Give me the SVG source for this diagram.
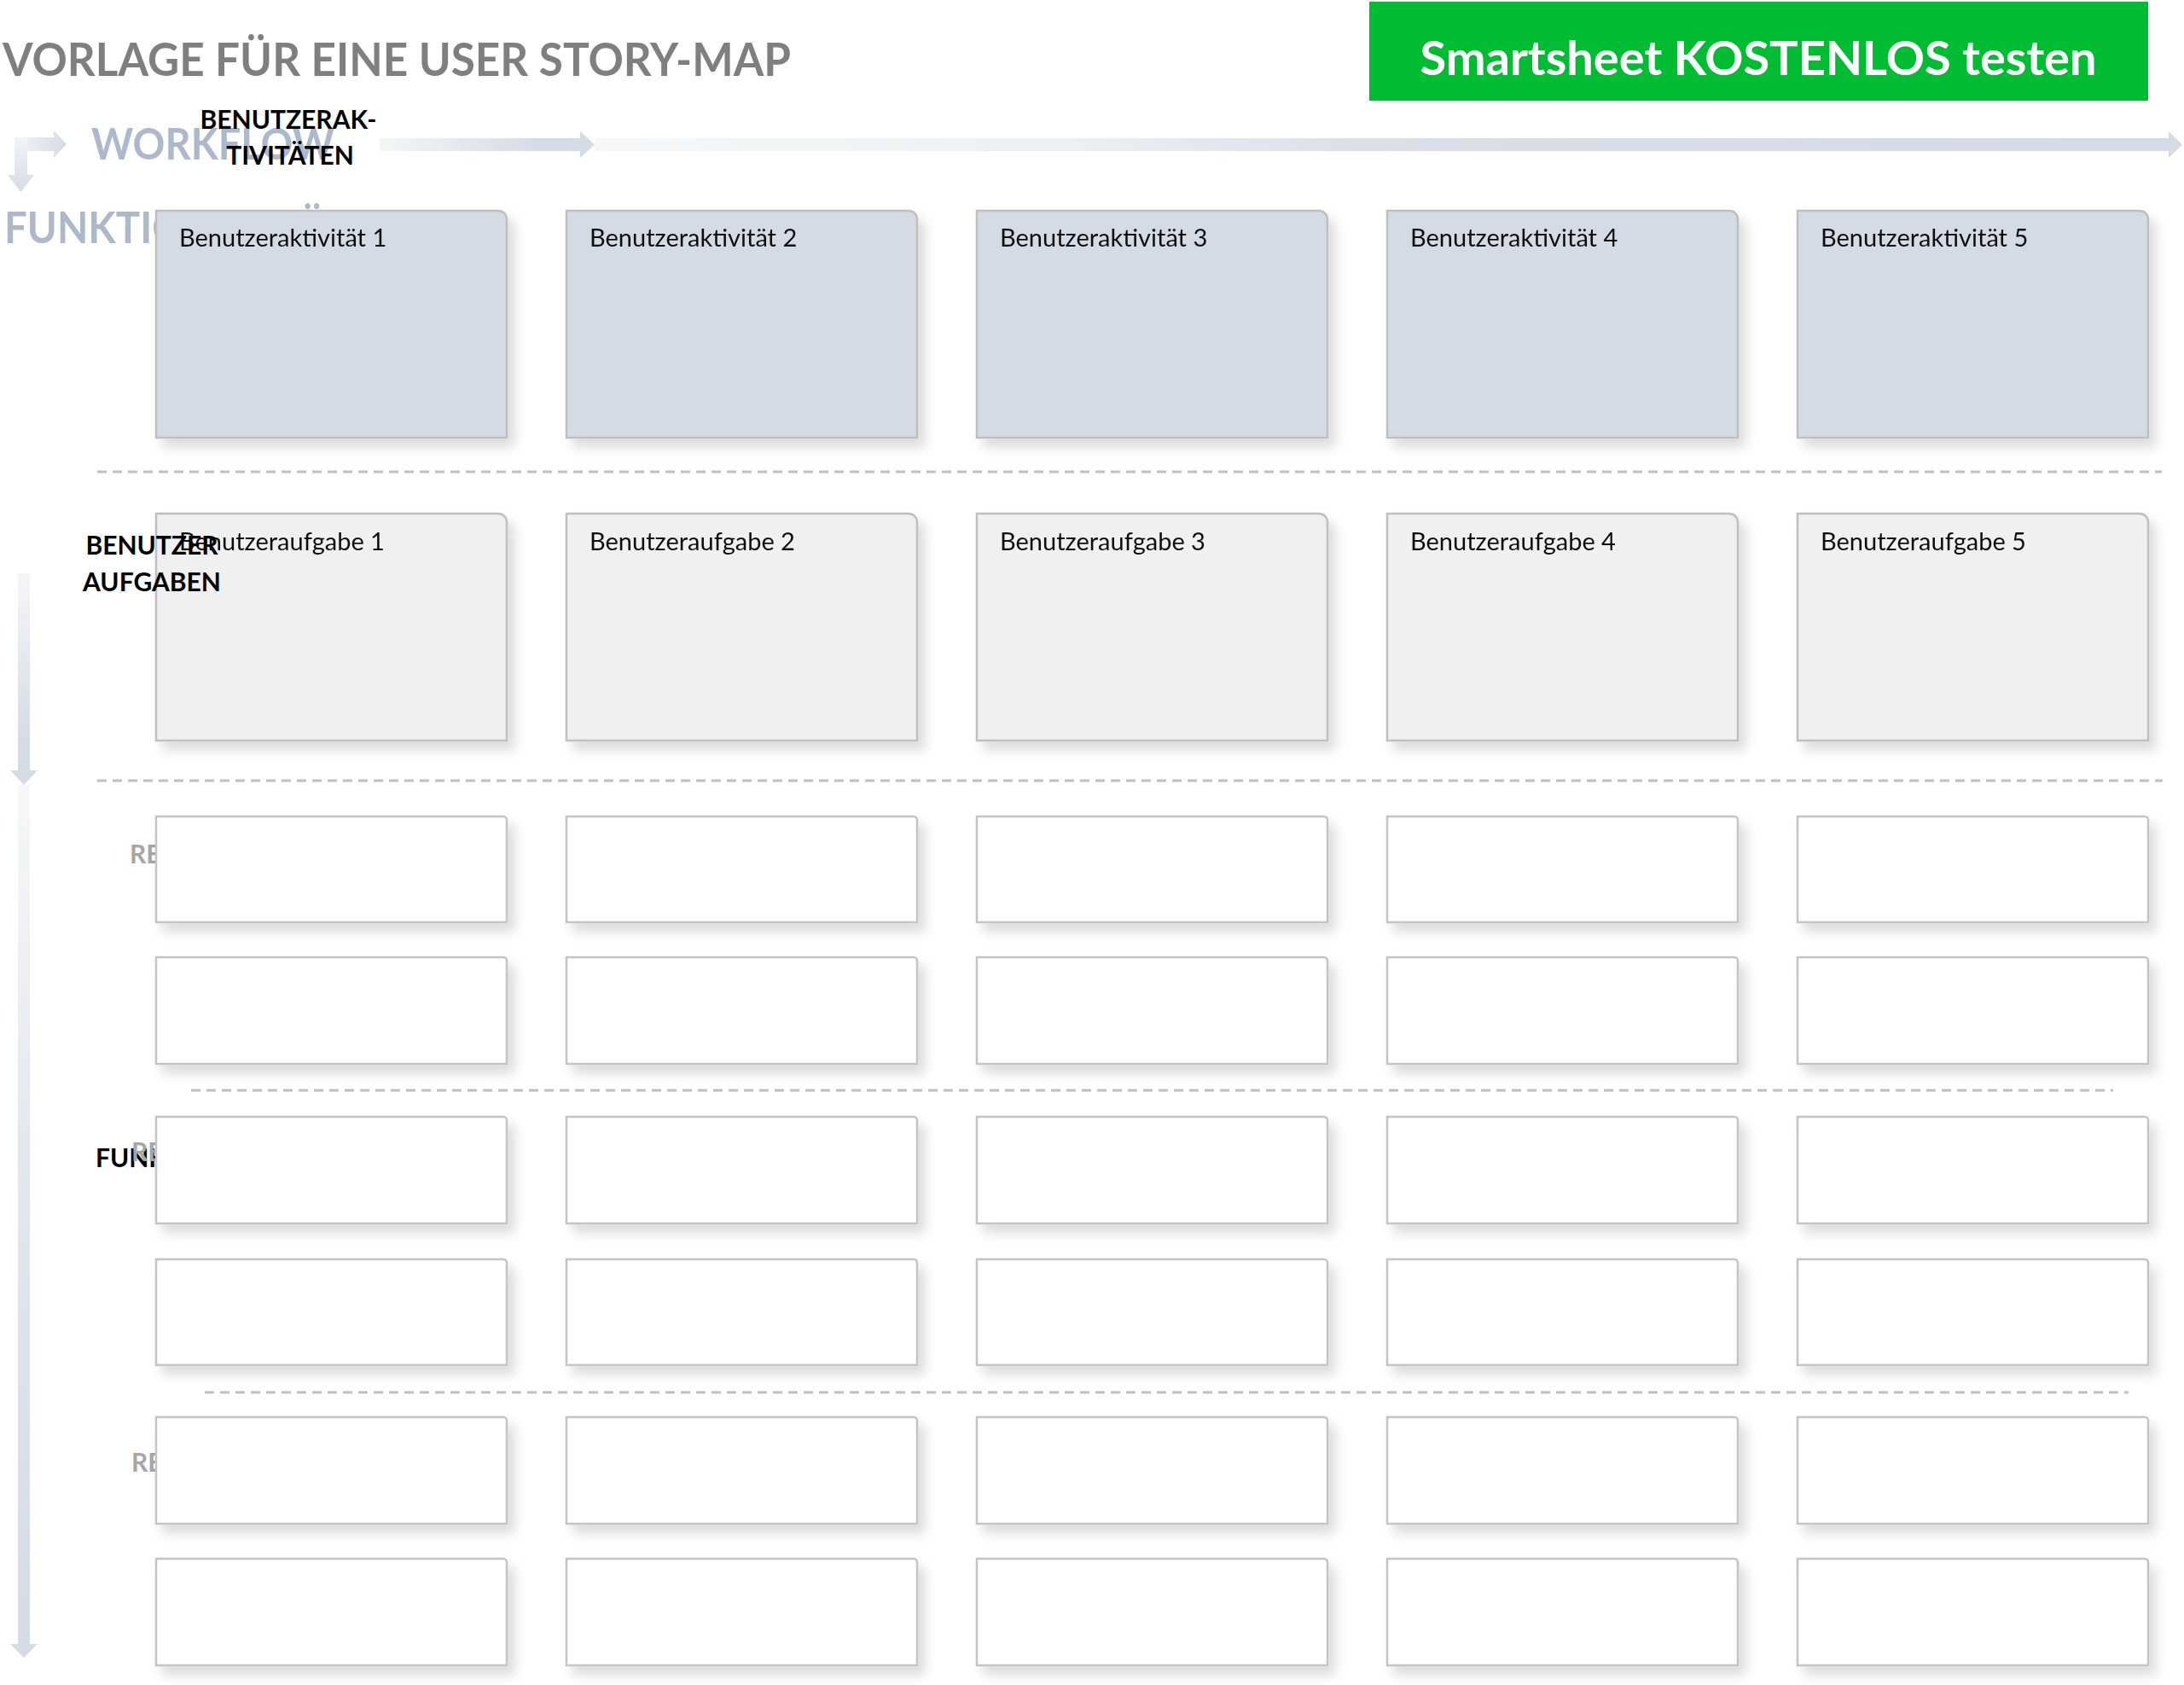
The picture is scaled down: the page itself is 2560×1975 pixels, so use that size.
<svg xmlns="http://www.w3.org/2000/svg" width="2560" height="1975" viewBox="0 0 2560 1975">
<defs>
<style>
.title{font-family:Lato,"Liberation Sans",sans-serif;font-weight:700;font-size:53px;fill:#7f7f7f}
.btn{font-family:Lato,"Liberation Sans",sans-serif;font-weight:700;font-size:56px;fill:#ffffff}
.axis{font-family:Lato,"Liberation Sans",sans-serif;font-weight:700;font-size:52px;fill:#adb9ca}
.lbl{font-family:Lato,"Liberation Sans",sans-serif;font-weight:700;font-size:30px;fill:#000000}
.rel{font-family:Lato,"Liberation Sans",sans-serif;font-weight:700;font-size:30px;fill:#a6a6a6}
.bt{font-family:Lato,"Liberation Sans",sans-serif;font-size:29px;fill:#111111}
.act{fill:#d5dbe5;stroke:#bfbfbf;stroke-width:2.5}
.task{fill:#f0f0f0;stroke:#bfbfbf;stroke-width:2.5}
.story{fill:#ffffff;stroke:#c4c4c4;stroke-width:2.5}
.sep{stroke:#c0c0c0;stroke-width:3;stroke-dasharray:11 7;fill:none}
</style>
<filter id="sh" x="-10%" y="-10%" width="130%" height="150%">
<feDropShadow dx="8" dy="10" stdDeviation="7" flood-color="#000000" flood-opacity="0.14"/>
</filter>
<linearGradient id="gH1" gradientUnits="userSpaceOnUse" x1="445" y1="0" x2="697" y2="0">
<stop offset="0" stop-color="#f4f5f7"/><stop offset="0.75" stop-color="#d5dbe5"/><stop offset="1" stop-color="#d5dbe5"/>
</linearGradient>
<linearGradient id="gH2" gradientUnits="userSpaceOnUse" x1="697" y1="0" x2="2558" y2="0">
<stop offset="0" stop-color="#f7f7f8"/><stop offset="0.3" stop-color="#eceff3"/><stop offset="0.5" stop-color="#d9dee7"/><stop offset="1" stop-color="#d5dbe5"/>
</linearGradient>
<linearGradient id="gV1" gradientUnits="userSpaceOnUse" x1="0" y1="672" x2="0" y2="920">
<stop offset="0" stop-color="#f5f6f8"/><stop offset="0.8" stop-color="#d5dbe5"/><stop offset="1" stop-color="#d5dbe5"/>
</linearGradient>
<linearGradient id="gV2" gradientUnits="userSpaceOnUse" x1="0" y1="920" x2="0" y2="1943">
<stop offset="0" stop-color="#f7f7f8"/><stop offset="0.45" stop-color="#e2e6ed"/><stop offset="1" stop-color="#d5dbe5"/>
</linearGradient>
<linearGradient id="gIH" gradientUnits="userSpaceOnUse" x1="17" y1="0" x2="78" y2="0">
<stop offset="0" stop-color="#f2f4f7"/><stop offset="1" stop-color="#d5dbe5"/>
</linearGradient>
<linearGradient id="gIV" gradientUnits="userSpaceOnUse" x1="0" y1="161" x2="0" y2="225">
<stop offset="0" stop-color="#f2f4f7"/><stop offset="1" stop-color="#d5dbe5"/>
</linearGradient>
</defs>

<g id="header">
<text class="title" x="3" y="89" textLength="924" lengthAdjust="spacingAndGlyphs">VORLAGE FÜR EINE USER STORY-MAP</text>
<rect x="1605" y="2" width="913" height="116" fill="#00bc32"/>
<text class="btn" x="2061" y="88" text-anchor="middle">Smartsheet KOSTENLOS testen</text>
</g>

<g id="connectors">
<polygon fill="url(#gIH)" points="17,161 63,161 63,153 78,169 63,185 63,177 17,177"/>
<polygon fill="url(#gIV)" points="17,161 32,161 32,205 40,205 24.5,225 9,205 17,205"/>
<polygon fill="url(#gH1)" points="445,162 680,162 680,154 697,169.5 680,185 680,177 445,177"/>
<polygon fill="url(#gH2)" points="697,162 2542,162 2542,154 2558,169.5 2542,185 2542,177 697,177"/>
<polygon fill="url(#gV1)" points="21,672 35,672 35,903 44,903 28,920 12,903 21,903"/>
<polygon fill="url(#gV2)" points="21,920 35,920 35,1927 44,1927 28,1943 12,1927 21,1927"/>
</g>

<g id="axis-labels">
<text class="axis" x="107" y="187" textLength="285" lengthAdjust="spacingAndGlyphs">WORKFLOW</text>
<text class="axis" transform="translate(5,285) scale(0.91,1)" x="0" y="0">FUNKTIONALITÄT</text>
<text class="lbl" x="112" y="1368">FUNKTIONEN</text>
<text class="rel" x="152" y="1012">RELEASE 1</text>
<text class="rel" x="154" y="1361">RELEASE 2</text>
<text class="rel" x="154" y="1725">RELEASE 3</text>
</g>

<g id="separators">
<line class="sep" x1="114" y1="553" x2="2534" y2="553"/>
<line class="sep" x1="114" y1="915" x2="2535" y2="915"/>
<line class="sep" x1="224" y1="1278" x2="2477" y2="1278"/>
<line class="sep" x1="240" y1="1632" x2="2495" y2="1632"/>
</g>

<g id="activities" filter="url(#sh)">
<g id="act1"><path class="act" d="M183,247 H584 A10,10 0 0 1 594,257 V513 H183 Z"/><text class="bt" x="210" y="289">Benutzeraktivität 1</text></g>
<g id="act2"><path class="act" d="M664,247 H1065 A10,10 0 0 1 1075,257 V513 H664 Z"/><text class="bt" x="691" y="289">Benutzeraktivität 2</text></g>
<g id="act3"><path class="act" d="M1145,247 H1546 A10,10 0 0 1 1556,257 V513 H1145 Z"/><text class="bt" x="1172" y="289">Benutzeraktivität 3</text></g>
<g id="act4"><path class="act" d="M1626,247 H2027 A10,10 0 0 1 2037,257 V513 H1626 Z"/><text class="bt" x="1653" y="289">Benutzeraktivität 4</text></g>
<g id="act5"><path class="act" d="M2107,247 H2508 A10,10 0 0 1 2518,257 V513 H2107 Z"/><text class="bt" x="2134" y="289">Benutzeraktivität 5</text></g>
</g>

<g id="tasks" filter="url(#sh)">
<g id="task1"><path class="task" d="M183,602 H584 A10,10 0 0 1 594,612 V868 H183 Z"/><text class="bt" x="210" y="645">Benutzeraufgabe 1</text></g>
<g id="task2"><path class="task" d="M664,602 H1065 A10,10 0 0 1 1075,612 V868 H664 Z"/><text class="bt" x="691" y="645">Benutzeraufgabe 2</text></g>
<g id="task3"><path class="task" d="M1145,602 H1546 A10,10 0 0 1 1556,612 V868 H1145 Z"/><text class="bt" x="1172" y="645">Benutzeraufgabe 3</text></g>
<g id="task4"><path class="task" d="M1626,602 H2027 A10,10 0 0 1 2037,612 V868 H1626 Z"/><text class="bt" x="1653" y="645">Benutzeraufgabe 4</text></g>
<g id="task5"><path class="task" d="M2107,602 H2508 A10,10 0 0 1 2518,612 V868 H2107 Z"/><text class="bt" x="2134" y="645">Benutzeraufgabe 5</text></g>
</g>

<g id="stories" filter="url(#sh)">
<g id="r1"><path class="story" d="M183,957 H590 A4,4 0 0 1 594,961 V1081 H183 Z"/><path class="story" d="M664,957 H1071 A4,4 0 0 1 1075,961 V1081 H664 Z"/><path class="story" d="M1145,957 H1552 A4,4 0 0 1 1556,961 V1081 H1145 Z"/><path class="story" d="M1626,957 H2033 A4,4 0 0 1 2037,961 V1081 H1626 Z"/><path class="story" d="M2107,957 H2514 A4,4 0 0 1 2518,961 V1081 H2107 Z"/></g>
<g id="r2"><path class="story" d="M183,1122 H590 A4,4 0 0 1 594,1126 V1247 H183 Z"/><path class="story" d="M664,1122 H1071 A4,4 0 0 1 1075,1126 V1247 H664 Z"/><path class="story" d="M1145,1122 H1552 A4,4 0 0 1 1556,1126 V1247 H1145 Z"/><path class="story" d="M1626,1122 H2033 A4,4 0 0 1 2037,1126 V1247 H1626 Z"/><path class="story" d="M2107,1122 H2514 A4,4 0 0 1 2518,1126 V1247 H2107 Z"/></g>
<g id="r3"><path class="story" d="M183,1309 H590 A4,4 0 0 1 594,1313 V1434 H183 Z"/><path class="story" d="M664,1309 H1071 A4,4 0 0 1 1075,1313 V1434 H664 Z"/><path class="story" d="M1145,1309 H1552 A4,4 0 0 1 1556,1313 V1434 H1145 Z"/><path class="story" d="M1626,1309 H2033 A4,4 0 0 1 2037,1313 V1434 H1626 Z"/><path class="story" d="M2107,1309 H2514 A4,4 0 0 1 2518,1313 V1434 H2107 Z"/></g>
<g id="r4"><path class="story" d="M183,1476 H590 A4,4 0 0 1 594,1480 V1600 H183 Z"/><path class="story" d="M664,1476 H1071 A4,4 0 0 1 1075,1480 V1600 H664 Z"/><path class="story" d="M1145,1476 H1552 A4,4 0 0 1 1556,1480 V1600 H1145 Z"/><path class="story" d="M1626,1476 H2033 A4,4 0 0 1 2037,1480 V1600 H1626 Z"/><path class="story" d="M2107,1476 H2514 A4,4 0 0 1 2518,1480 V1600 H2107 Z"/></g>
<g id="r5"><path class="story" d="M183,1661 H590 A4,4 0 0 1 594,1665 V1786 H183 Z"/><path class="story" d="M664,1661 H1071 A4,4 0 0 1 1075,1665 V1786 H664 Z"/><path class="story" d="M1145,1661 H1552 A4,4 0 0 1 1556,1665 V1786 H1145 Z"/><path class="story" d="M1626,1661 H2033 A4,4 0 0 1 2037,1665 V1786 H1626 Z"/><path class="story" d="M2107,1661 H2514 A4,4 0 0 1 2518,1665 V1786 H2107 Z"/></g>
<g id="r6"><path class="story" d="M183,1827 H590 A4,4 0 0 1 594,1831 V1952 H183 Z"/><path class="story" d="M664,1827 H1071 A4,4 0 0 1 1075,1831 V1952 H664 Z"/><path class="story" d="M1145,1827 H1552 A4,4 0 0 1 1556,1831 V1952 H1145 Z"/><path class="story" d="M1626,1827 H2033 A4,4 0 0 1 2037,1831 V1952 H1626 Z"/><path class="story" d="M2107,1827 H2514 A4,4 0 0 1 2518,1831 V1952 H2107 Z"/></g>
</g>

<g id="row-labels">
<text class="lbl" text-anchor="middle"><tspan x="338" y="151">BENUTZERAK-</tspan><tspan x="340" y="193">TIVITÄTEN</tspan></text>
<text class="lbl" text-anchor="middle"><tspan x="178" y="650">BENUTZER</tspan><tspan x="178" y="693">AUFGABEN</tspan></text>
</g>
</svg>
